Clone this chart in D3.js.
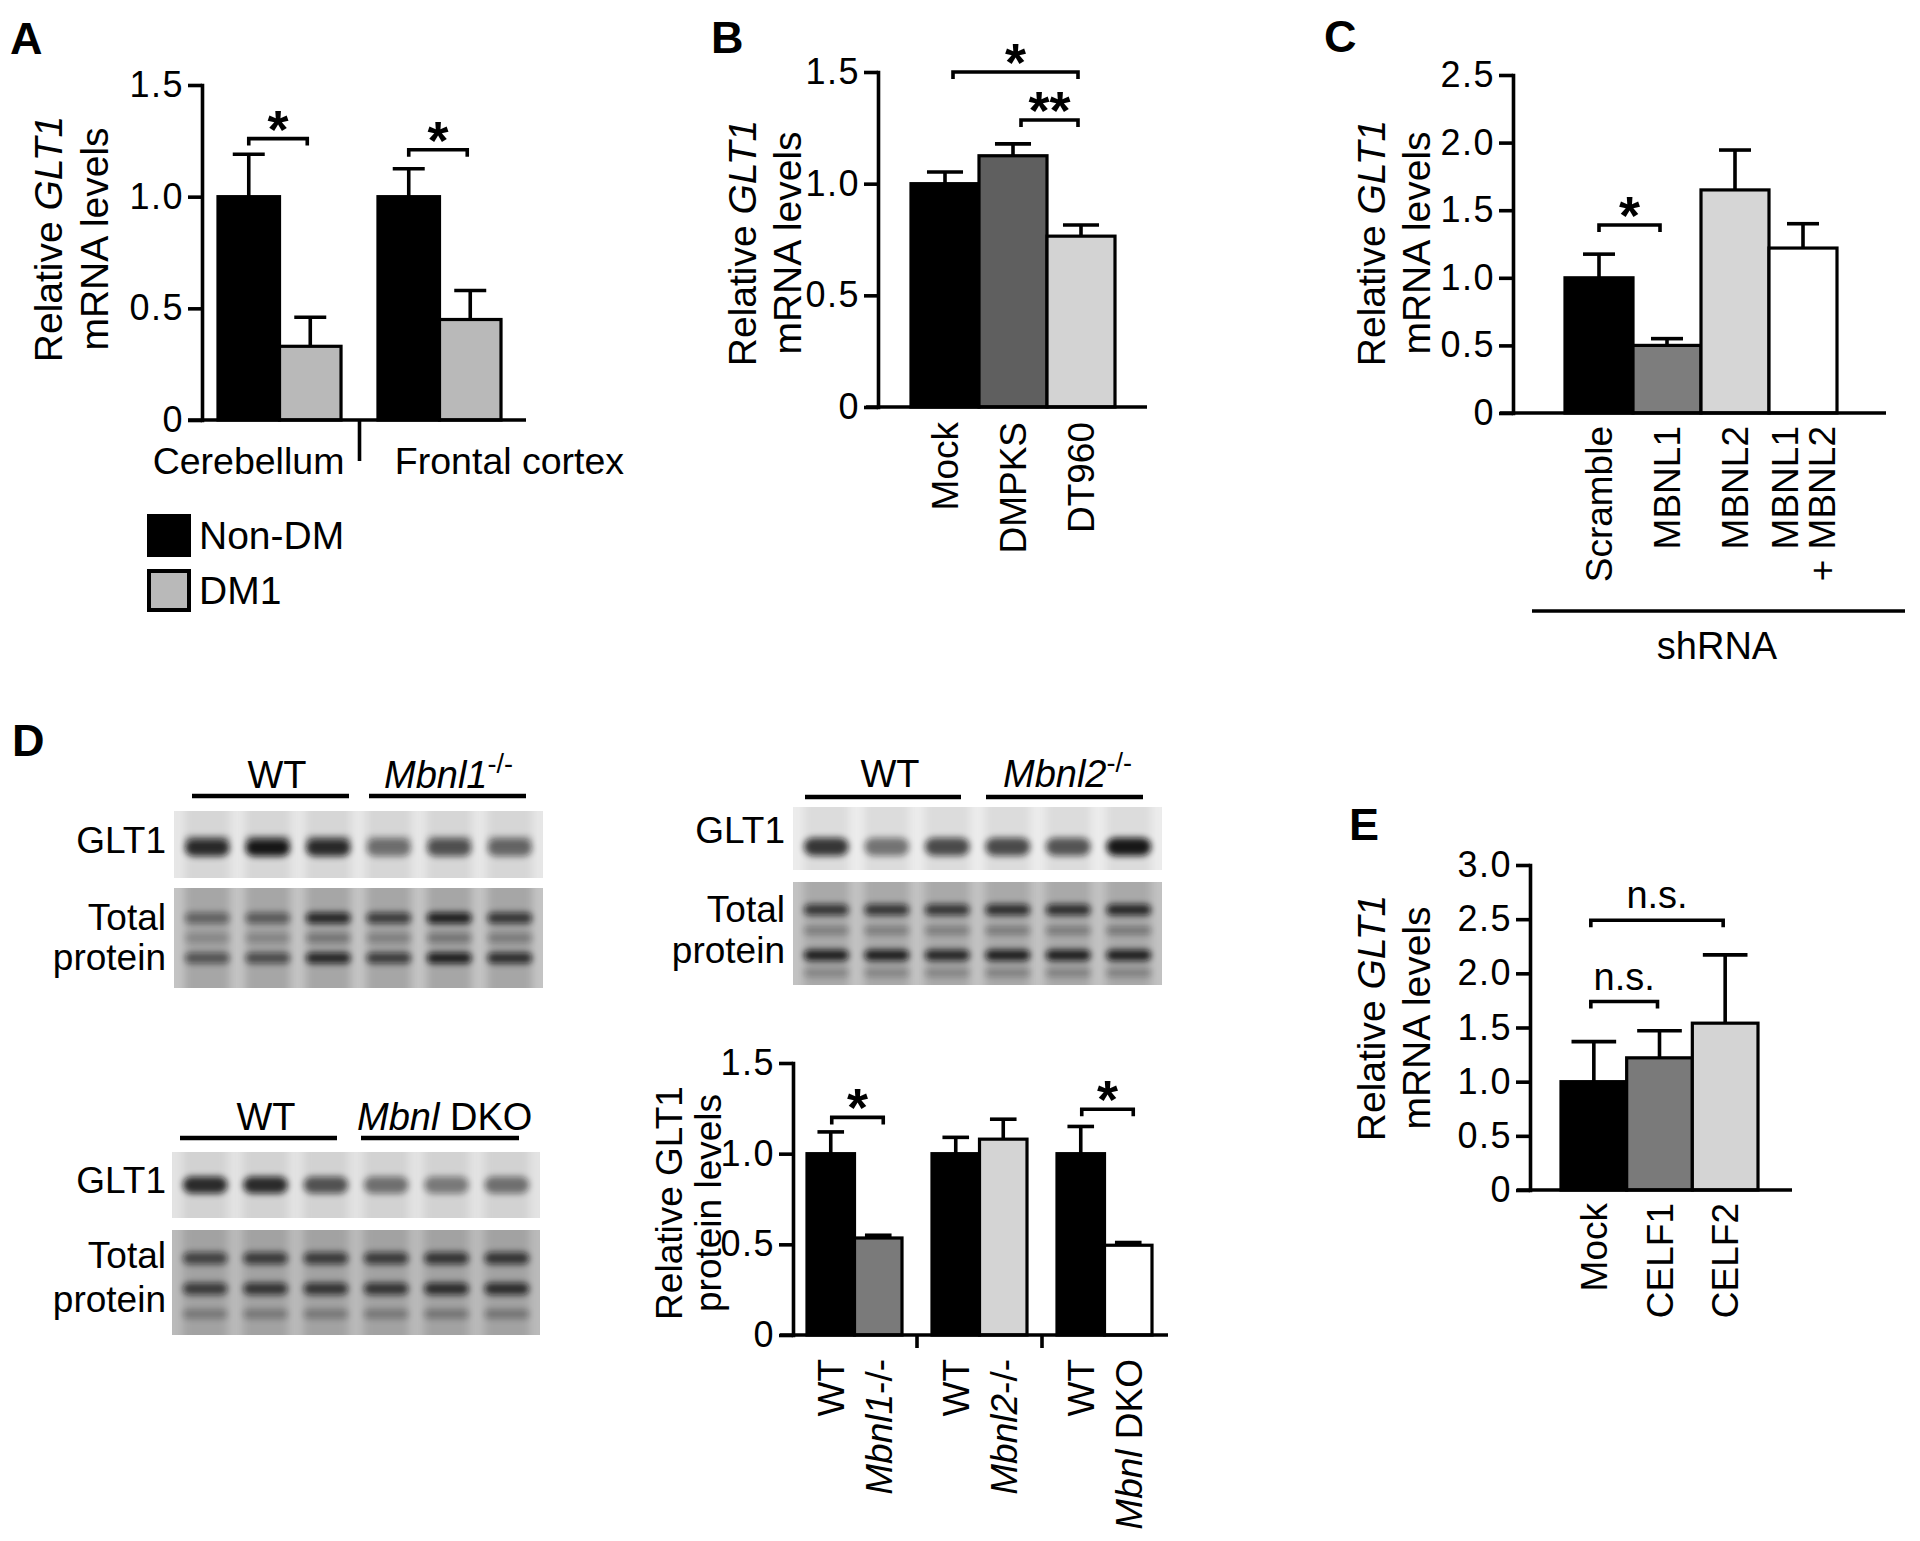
<!DOCTYPE html>
<html><head><meta charset="utf-8">
<script src="https://cdn.jsdelivr.net/npm/d3@7"></script>
<style>
body{margin:0;background:#fff}
svg text{font-family:"Liberation Sans",Arial,Helvetica,sans-serif;fill:#000}
</style>
</head><body><script>
// ================= DATA =================
// Panel A
const aGroups = ["Cerebellum", "Frontal cortex"];
const aSeries = ["Non-DM", "DM1"];
const aMeans = [[1.00, 0.33], [1.00, 0.45]];
const aSem = [[0.19, 0.13], [0.125, 0.13]];
const aTicks = [0, 0.5, 1.0, 1.5];
const aSig = [{g: "Cerebellum", y: 1.26, label: "*"}, {g: "Frontal cortex", y: 1.21, label: "*"}];

// Panel B
const bCats = ["Mock", "DMPKS", "DT960"];
const bMeans = [1.00, 1.125, 0.765];
const bSem = [0.052, 0.053, 0.05];
const bTicks = [0, 0.5, 1.0, 1.5];
const bSig = [{from: "Mock", to: "DT960", y: 1.50, label: "*"}, {from: "DMPKS", to: "DT960", y: 1.285, label: "**"}];

// Panel C
const cCats = ["Scramble", "MBNL1", "MBNL2", "MBNL1+MBNL2"];
const cLabels = [["Scramble"], ["MBNL1"], ["MBNL2"], ["MBNL1", "+ MBNL2"]];
const cMeans = [1.00, 0.50, 1.65, 1.22];
const cSem = [0.175, 0.05, 0.295, 0.18];
const cTicks = [0, 0.5, 1.0, 1.5, 2.0, 2.5];
const cSig = [{from: "Scramble", to: "MBNL1", y: 1.39, label: "*"}];
const cGroupLabel = "shRNA";

// Panel D (quantification)
const dGroups = ["Mbnl1", "Mbnl2", "DKO"];
const dSeries = ["WT", "KO"];
const dMeans = [[1.00, 0.535], [1.00, 1.08], [1.00, 0.495]];
const dSem = [[0.12, 0.015], [0.09, 0.11], [0.15, 0.015]];
const dLabels = [[["WT"], [["Mbnl1", 1], ["-/-", 0]]], [["WT"], [["Mbnl2", 1], ["-/-", 0]]], [["WT"], [["Mbnl", 1], [" DKO", 0]]]];
const dTicks = [0, 0.5, 1.0, 1.5];
const dSig = [{g: "Mbnl1", y: 1.20, label: "*"}, {g: "DKO", y: 1.245, label: "*"}];

// Panel D (blots) – relative band intensities per lane (3 WT + 3 KO)
const blotTLglt1 = [0.85, 0.95, 0.85, 0.50, 0.65, 0.55];
const blotTLtotUp = [0.45, 0.50, 0.85, 0.70, 0.90, 0.75];
const blotTLtotMid = [0.20, 0.22, 0.32, 0.25, 0.32, 0.28];
const blotTLtotLow = [0.55, 0.60, 0.85, 0.70, 0.90, 0.80];
const blotTRglt1 = [0.80, 0.50, 0.70, 0.70, 0.65, 0.95];
const blotTRtotUp = [0.75, 0.75, 0.75, 0.80, 0.80, 0.85];
const blotTRtotMid = [0.30, 0.30, 0.30, 0.32, 0.32, 0.35];
const blotTRtotLow = [0.90, 0.90, 0.85, 0.90, 0.90, 0.90];
const blotTRtotBot = [0.25, 0.25, 0.25, 0.28, 0.28, 0.28];
const blotBLglt1 = [0.85, 0.85, 0.65, 0.50, 0.45, 0.50];
const blotBLtotUp = [0.65, 0.70, 0.70, 0.70, 0.75, 0.75];
const blotBLtotLow = [0.70, 0.75, 0.75, 0.75, 0.80, 0.80];
const blotBLtotBot = [0.30, 0.30, 0.30, 0.30, 0.32, 0.32];

// Panel E
const eCats = ["Mock", "CELF1", "CELF2"];
const eMeans = [1.00, 1.22, 1.54];
const eSem = [0.37, 0.25, 0.63];
const eTicks = [0, 0.5, 1.0, 1.5, 2.0, 2.5, 3.0];
const eSig = [{from: "Mock", to: "CELF1", y: 1.74, label: "n.s."}, {from: "Mock", to: "CELF2", y: 2.49, label: "n.s."}];

// ================= DRAWING =================
const SW = 3.6;
const svg = d3.select("body").append("svg").attr("width", 1920).attr("height", 1541);
const defs = svg.append("defs");
defs.append("filter").attr("id", "blurB").attr("x", "-50%").attr("y", "-150%").attr("width", "200%").attr("height", "400%")
  .append("feGaussianBlur").attr("stdDeviation", 3.4);
defs.append("filter").attr("id", "blurL").attr("x", "-50%").attr("y", "-20%").attr("width", "200%").attr("height", "140%")
  .append("feGaussianBlur").attr("stdDeviation", 4);

function letter(t, x, y) {
  svg.append("text").attr("x", x).attr("y", y).attr("font-size", 45).attr("font-weight", "bold").text(t);
}
const fmt = d => d === 0 ? "0" : d.toFixed(1);

function yAxis(g, y, ax, ticks) {
  const a = g.append("g").attr("transform", `translate(${ax},0)`)
    .call(d3.axisLeft(y).tickValues(ticks).tickFormat(fmt).tickSize(14).tickSizeOuter(0).tickPadding(4));
  a.attr("font-family", null).attr("font-size", null);
  a.select(".domain").attr("stroke", "#000").attr("stroke-width", SW).attr("stroke-linecap", "square");
  a.selectAll(".tick line").attr("stroke", "#000").attr("stroke-width", SW);
  a.selectAll(".tick text").attr("font-size", 36).attr("letter-spacing", 1.5).attr("fill", "#000");
}
function xLine(g, x1, x2, yy) {
  g.append("line").attr("x1", x1).attr("x2", x2).attr("y1", yy).attr("y2", yy)
    .attr("stroke", "#000").attr("stroke-width", SW);
}
function yTitle(g, cy, lines, fs) {
  lines.forEach(l => {
    const t = g.append("text").attr("transform", `translate(${l.bx},${cy}) rotate(-90)`)
      .attr("text-anchor", "middle").attr("font-size", fs);
    l.parts.forEach(p => t.append("tspan").attr("font-style", p[1] ? "italic" : "normal").text(p[0]));
  });
}
function rotLabel(g, cx, top, lines, fs, gap) {
  lines.forEach((ln, i) => {
    const bx = cx + 0.36 * fs + (i - (lines.length - 1) / 2) * gap;
    const t = g.append("text").attr("transform", `translate(${bx},${top}) rotate(-90)`)
      .attr("text-anchor", "end").attr("font-size", fs);
    ln.forEach(p => {
      if (typeof p === "string") t.append("tspan").text(p);
      else t.append("tspan").attr("font-style", p[1] ? "italic" : "normal").text(p[0]);
    });
  });
}
function bracket(g, x1, x2, yy, label, isStar) {
  g.append("path").attr("d", `M${x1},${yy + 7}V${yy}H${x2}V${yy + 7}`)
    .attr("fill", "none").attr("stroke", "#000").attr("stroke-width", SW);
  g.append("text").attr("x", (x1 + x2) / 2).attr("y", isStar ? yy + 9 : yy - 12)
    .attr("text-anchor", "middle").attr("font-size", isStar ? 54 : 38)
    .attr("font-weight", isStar ? "bold" : "normal").text(label);
}
function bars(g, items, y) {
  g.selectAll(null).data(items).join("rect")
    .attr("x", d => d.x).attr("width", d => d.w)
    .attr("y", d => y(d.m)).attr("height", d => y(0) - y(d.m))
    .attr("fill", d => d.fill).attr("stroke", "#000").attr("stroke-width", 3.2);
}
function errs(g, items, y, capFrac) {
  items.forEach(d => {
    const cx = d.x + d.w / 2, top = y(d.m + d.s), cw = d.w * capFrac;
    g.append("line").attr("x1", cx).attr("x2", cx).attr("y1", y(d.m)).attr("y2", top)
      .attr("stroke", "#000").attr("stroke-width", SW);
    g.append("line").attr("x1", cx - cw / 2).attr("x2", cx + cw / 2).attr("y1", top).attr("y2", top)
      .attr("stroke", "#000").attr("stroke-width", SW);
  });
}

// ---------- Panel A ----------
{
  const g = svg.append("g");
  letter("A", 10, 54);
  const y = d3.scaleLinear().domain([0, 1.5]).range([420, 85]);
  const x0 = d3.scaleBand().domain(aGroups).range([202, 517]).paddingInner(0.231).paddingOuter(0.1);
  const x1 = d3.scaleBand().domain(aSeries).range([0, x0.bandwidth()]);
  const fills = ["#000", "#b9b9b9"];
  const items = [];
  aGroups.forEach((gr, i) => aSeries.forEach((s, j) =>
    items.push({x: x0(gr) + x1(s), w: x1.bandwidth(), m: aMeans[i][j], s: aSem[i][j], fill: fills[j]})));
  bars(g, items, y);
  errs(g, items, y, 0.52);
  yAxis(g, y, 202, aTicks);
  xLine(g, 188, 526, y(0));
  const mid = (x0(aGroups[0]) + x0.bandwidth() + x0(aGroups[1])) / 2;
  g.append("line").attr("x1", mid).attr("x2", mid).attr("y1", y(0)).attr("y2", 461).attr("stroke", "#000").attr("stroke-width", SW);
  aGroups.forEach(gr => g.append("text").attr("x", x0(gr) + x0.bandwidth() / 2 + (gr === aGroups[0] ? -31 : 70)).attr("y", 474)
    .attr("text-anchor", "middle").attr("font-size", 37.5).text(gr));
  aSig.forEach(s => {
    const c1 = x0(s.g) + x1(aSeries[0]) + x1.bandwidth() / 2, c2 = x0(s.g) + x1(aSeries[1]) + x1.bandwidth() / 2;
    bracket(g, c1, c2 - 3, y(s.y), s.label, true);
  });
  yTitle(g, 239, [{bx: 62, parts: [["Relative ", 0], ["GLT1", 1]]}, {bx: 108, parts: [["mRNA levels", 0]]}], 39);
  aSeries.forEach((s, i) => {
    g.append("rect").attr("x", 149).attr("y", 516 + i * 55).attr("width", 40).attr("height", 39)
      .attr("fill", fills[i]).attr("stroke", "#000").attr("stroke-width", 4);
    g.append("text").attr("x", 199).attr("y", 549 + i * 55).attr("font-size", 39).text(s);
  });
}

// ---------- Panel B ----------
{
  const g = svg.append("g");
  letter("B", 711, 53);
  const y = d3.scaleLinear().domain([0, 1.5]).range([407, 72]);
  const x = d3.scaleBand().domain(bCats).range([911, 1115]);
  const fills = ["#000", "#5f5f5f", "#d3d3d3"];
  const items = bCats.map((c, i) => ({x: x(c), w: x.bandwidth(), m: bMeans[i], s: bSem[i], fill: fills[i]}));
  bars(g, items, y);
  errs(g, items, y, 0.53);
  yAxis(g, y, 878, bTicks);
  xLine(g, 866, 1147, y(0));
  bCats.forEach(c => rotLabel(g, x(c) + x.bandwidth() / 2, 422, [[c]], 37, 36));
  bSig.forEach(s => bracket(g, x(s.from) + x.bandwidth() / 2 + 8, x(s.to) + x.bandwidth() / 2 - 3, y(s.y), s.label, true));
  yTitle(g, 243, [{bx: 756, parts: [["Relative ", 0], ["GLT1", 1]]}, {bx: 801, parts: [["mRNA levels", 0]]}], 39);
}

// ---------- Panel C ----------
{
  const g = svg.append("g");
  letter("C", 1324, 52);
  const y = d3.scaleLinear().domain([0, 2.5]).range([413, 75]);
  const x = d3.scaleBand().domain(cCats).range([1565, 1837]);
  const fills = ["#000", "#7d7d7d", "#d6d6d6", "#fff"];
  const items = cCats.map((c, i) => ({x: x(c), w: x.bandwidth(), m: cMeans[i], s: cSem[i], fill: fills[i]}));
  bars(g, items, y);
  errs(g, items, y, 0.47);
  yAxis(g, y, 1513, cTicks);
  xLine(g, 1500, 1886, y(0));
  cCats.forEach((c, i) => rotLabel(g, x(c) + x.bandwidth() / 2, 426, cLabels[i].map(t => [t]), 37, 37));
  cSig.forEach(s => bracket(g, x(s.from) + x.bandwidth() / 2, x(s.to) + x.bandwidth() / 2 - 7, y(s.y), s.label, true));
  g.append("line").attr("x1", 1532).attr("x2", 1905).attr("y1", 611).attr("y2", 611).attr("stroke", "#000").attr("stroke-width", SW);
  g.append("text").attr("x", 1717).attr("y", 659).attr("text-anchor", "middle").attr("font-size", 38).text(cGroupLabel);
  yTitle(g, 243, [{bx: 1385, parts: [["Relative ", 0], ["GLT1", 1]]}, {bx: 1430, parts: [["mRNA levels", 0]]}], 39);
}

// ---------- Panel D : blots ----------
let clipId = 0;
function strip(g, x0, x1, y0, y1, bg, lane, bands) {
  const id = "clip" + (clipId++);
  defs.append("clipPath").attr("id", id).append("rect").attr("x", x0).attr("y", y0).attr("width", x1 - x0).attr("height", y1 - y0);
  g.append("rect").attr("x", x0).attr("y", y0).attr("width", x1 - x0).attr("height", y1 - y0).attr("fill", bg);
  const cg = g.append("g").attr("clip-path", `url(#${id})`);
  const lx = d3.scalePoint().domain(d3.range(6)).range([x0, x1]).padding(0.55);
  const lw = lx.step() * 0.74;
  cg.selectAll(null).data(d3.range(6)).join("rect")
    .attr("x", i => lx(i) - lw / 2).attr("y", y0 - 15).attr("width", lw).attr("height", y1 - y0 + 30)
    .attr("fill", lane).attr("filter", "url(#blurL)");
  bands.forEach(b => {
    cg.selectAll(null).data(b.v).join("rect")
      .attr("x", (v, i) => lx(i) - lw * 0.5).attr("width", lw)
      .attr("y", y0 + b.f * (y1 - y0) - b.h / 2).attr("height", b.h).attr("rx", b.h / 2)
      .attr("fill", "#0c0c0c").attr("opacity", v => v).attr("filter", "url(#blurB)");
  });
}
function header(g, items) {
  items.forEach(it => {
    const t = g.append("text").attr("x", it.tx).attr("y", it.ty).attr("font-size", 38).attr("text-anchor", it.anchor || "start");
    it.parts.forEach(p => {
      const ts = t.append("tspan").attr("font-style", p[1] ? "italic" : "normal").text(p[0]);
      if (p[2]) ts.attr("font-size", 27).attr("baseline-shift", "55%");
    });
    g.append("line").attr("x1", it.lx1).attr("x2", it.lx2).attr("y1", it.ly).attr("y2", it.ly).attr("stroke", "#000").attr("stroke-width", 4.5);
  });
}
function blotLabels(g, rx, ys) {
  [["GLT1", ys[0]], ["Total", ys[1]], ["protein", ys[2]]].forEach(([t, yy]) =>
    g.append("text").attr("x", rx).attr("y", yy).attr("text-anchor", "end").attr("font-size", 37).text(t));
}
{
  const g = svg.append("g");
  letter("D", 12, 756);
  header(g, [
    {tx: 277, ty: 788, anchor: "middle", parts: [["WT", 0]], lx1: 192, lx2: 349, ly: 796},
    {tx: 384, ty: 788, parts: [["Mbnl1", 1], ["-/-", 0, 1]], lx1: 369, lx2: 526, ly: 796}
  ]);
  strip(g, 174, 543, 811, 878, "#e7e7e7", "#d6d6d6", [{f: 0.55, h: 17, v: blotTLglt1}, {f: 0.43, h: 8, v: blotTLglt1.map(v => v * 0.35)}]);
  strip(g, 174, 543, 888, 988, "#c4c4c4", "#a6a6a6", [{f: 0.30, h: 11, v: blotTLtotUp}, {f: 0.50, h: 10, v: blotTLtotMid}, {f: 0.70, h: 11, v: blotTLtotLow}]);
  blotLabels(g, 166, [853, 930, 970]);
  header(g, [
    {tx: 890, ty: 787, anchor: "middle", parts: [["WT", 0]], lx1: 805, lx2: 961, ly: 797},
    {tx: 1003, ty: 787, parts: [["Mbnl2", 1], ["-/-", 0, 1]], lx1: 986, lx2: 1143, ly: 797}
  ]);
  strip(g, 793, 1162, 807, 870, "#ececec", "#dcdcdc", [{f: 0.63, h: 18, v: blotTRglt1}]);
  strip(g, 793, 1162, 882, 985, "#c2c2c2", "#a9a9a9", [{f: 0.27, h: 11, v: blotTRtotUp}, {f: 0.47, h: 8, v: blotTRtotMid}, {f: 0.71, h: 11, v: blotTRtotLow}, {f: 0.88, h: 8, v: blotTRtotBot}]);
  blotLabels(g, 785, [843, 922, 963]);
  header(g, [
    {tx: 266, ty: 1130, anchor: "middle", parts: [["WT", 0]], lx1: 180, lx2: 337, ly: 1138},
    {tx: 357, ty: 1130, parts: [["Mbnl", 1], [" DKO", 0]], lx1: 361, lx2: 519, ly: 1138}
  ]);
  strip(g, 172, 540, 1152, 1218, "#e3e3e3", "#d2d2d2", [{f: 0.50, h: 17, v: blotBLglt1}]);
  strip(g, 172, 540, 1230, 1335, "#bababa", "#a2a2a2", [{f: 0.27, h: 12, v: blotBLtotUp}, {f: 0.56, h: 12, v: blotBLtotLow}, {f: 0.80, h: 9, v: blotBLtotBot}]);
  blotLabels(g, 166, [1193, 1268, 1312]);
}

// ---------- Panel D : quantification ----------
{
  const g = svg.append("g");
  const y = d3.scaleLinear().domain([0, 1.5]).range([1335, 1063]);
  const x0 = d3.scaleBand().domain(dGroups).range([807, 1152]).paddingInner(0.24).paddingOuter(0);
  const x1 = d3.scaleBand().domain(dSeries).range([0, x0.bandwidth()]);
  const koFills = ["#7a7a7a", "#d4d4d4", "#fff"];
  const items = [];
  dGroups.forEach((gr, i) => dSeries.forEach((s, j) =>
    items.push({x: x0(gr) + x1(s), w: x1.bandwidth(), m: dMeans[i][j], s: dSem[i][j], fill: j === 0 ? "#000" : koFills[i]})));
  bars(g, items, y);
  errs(g, items, y, 0.56);
  yAxis(g, y, 793, dTicks);
  xLine(g, 780, 1168, y(0));
  for (let i = 0; i < dGroups.length - 1; i++) {
    const m = (x0(dGroups[i]) + x0.bandwidth() + x0(dGroups[i + 1])) / 2;
    g.append("line").attr("x1", m).attr("x2", m).attr("y1", y(0)).attr("y2", y(0) + 13).attr("stroke", "#000").attr("stroke-width", SW);
  }
  dGroups.forEach((gr, i) => dSeries.forEach((s, j) =>
    rotLabel(g, x0(gr) + x1(s) + x1.bandwidth() / 2, 1359, [dLabels[i][j].map(p => typeof p === "string" ? [p, 0] : p)], 37, 36)));
  dSig.forEach(s => bracket(g, x0(s.g) + x1.bandwidth() / 2 + 1, x0(s.g) + x1(dSeries[1]) + x1.bandwidth() / 2 + 5, y(s.y), s.label, true));
  yTitle(g, 1203, [{bx: 682, parts: [["Relative GLT1", 0]]}, {bx: 721, parts: [["protein levels", 0]]}], 37);
}

// ---------- Panel E ----------
{
  const g = svg.append("g");
  letter("E", 1349, 840);
  const y = d3.scaleLinear().domain([0, 3.0]).range([1190, 865]);
  const x = d3.scaleBand().domain(eCats).range([1561, 1758]);
  const fills = ["#000", "#7a7a7a", "#d4d4d4"];
  const items = eCats.map((c, i) => ({x: x(c), w: x.bandwidth(), m: eMeans[i], s: eSem[i], fill: fills[i]}));
  bars(g, items, y);
  errs(g, items, y, 0.68);
  yAxis(g, y, 1530, eTicks);
  xLine(g, 1517, 1792, y(0));
  eCats.forEach(c => rotLabel(g, x(c) + x.bandwidth() / 2, 1203, [[c]], 37, 36));
  eSig.forEach(s => bracket(g, x(s.from) + x.bandwidth() / 2 - 3, x(s.to) + x.bandwidth() / 2 - 2, y(s.y), s.label, false));
  yTitle(g, 1018, [{bx: 1385, parts: [["Relative ", 0], ["GLT1", 1]]}, {bx: 1430, parts: [["mRNA levels", 0]]}], 39);
}
</script></body></html>
